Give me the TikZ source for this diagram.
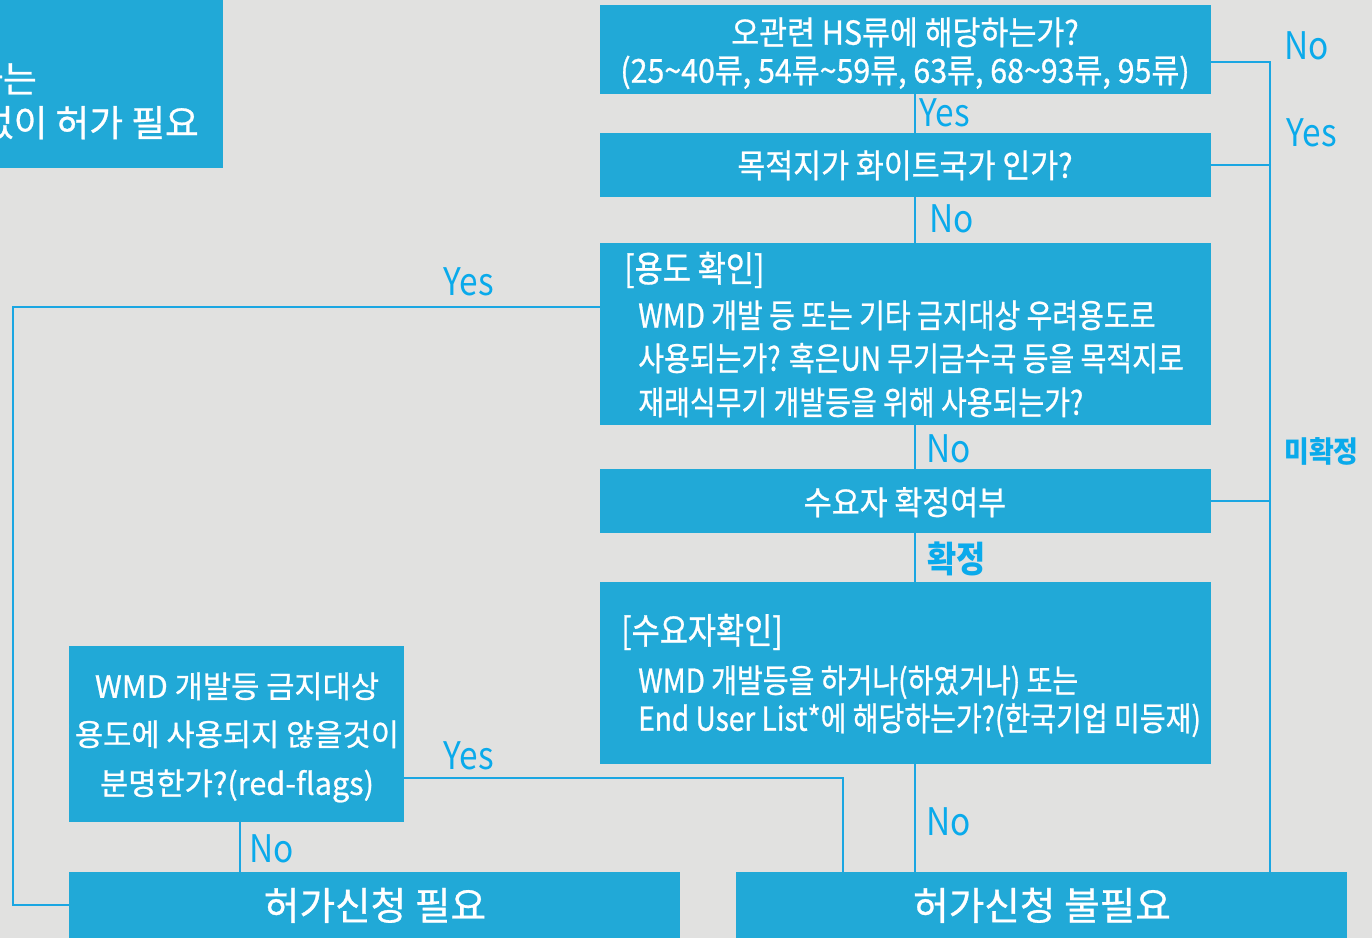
\documentclass[tikz,border=0pt]{standalone}
\usepackage{fontspec}
\setmainfont{Noto Sans CJK KR}
\newfontfamily\krC[FakeStretch=0.85,FakeBold=0.8]{Noto Sans CJK KR}
\newfontfamily\krB[FakeStretch=0.92,FakeBold=0.8]{Noto Sans CJK KR}
\newfontfamily\krL[FakeStretch=0.88]{Noto Sans CJK KR}
\newfontfamily\krM[FakeStretch=0.92]{Noto Sans CJK KR}
\newfontfamily\krN[FakeBold=0.8]{Noto Sans CJK KR}
\definecolor{bgc}{HTML}{E1E1E0}
\definecolor{boxc}{HTML}{21A9D7}
\definecolor{lnc}{HTML}{1AA6E2}
\definecolor{lbc}{HTML}{0AAAEB}
\newcommand\myfs[1]{\fontsize{#1}{#1}\selectfont}
\begin{document}
\begin{tikzpicture}[x=0.75pt,y=-0.75pt,
  box/.style 2 args={fill=boxc, draw=none, inner sep=0pt, minimum width=#1*0.75pt, minimum height=#2*0.75pt},
  txt/.style={text=white, inner sep=0pt, anchor=base},
  txtw/.style={text=white, inner sep=0pt, anchor=base west},
  lbl/.style={text=lbc, inner sep=0pt, anchor=base west, font=\krL\myfs{28.5pt}},
  ln/.style={draw=lnc, line width=1.5pt}]
\useasboundingbox (0,0) rectangle (1372,938);
\clip (0,0) rectangle (1372,938);
\fill[bgc] (0,0) rectangle (1372,938);

% top-left partial box
\node[box={260}{200}] (T) at (93,68) {};
\node[text=white, inner sep=0pt, anchor=base east, font=\krN\myfs{27.5pt}] (T1) at (37,92.4) {하는};
\node[text=white, inner sep=0pt, anchor=base east, font=\krN\myfs{27.5pt}] (T2) at (199,136.4) {없이 허가 필요};

% main column
\node[box={611}{89}] (A) at (905.5,49.5) {};
\node[txt, font=\krB\myfs{24.75pt}] (A1) at (905,44.7) {오관련 HS류에 해당하는가?};
\node[txt, font=\krB\myfs{24.75pt}] (A2) at (905,82.7) {(25\textasciitilde40류, 54류\textasciitilde59류, 63류, 68\textasciitilde93류, 95류)};

\node[box={611}{64}] (B) at (905.5,165) {};
\node[txt, font=\krB\myfs{24.75pt}] (B1) at (905,177.7) {목적지가 화이트국가 인가?};

\node[box={611}{182}] (C) at (905.5,334) {};
\node[txtw, font=\krC\myfs{27pt}] (C0) at (624,281.9) {[용도 확인]};
\node[txtw, font=\krC\myfs{24.75pt}] (C1) at (638,327.7) {WMD 개발 등 또는 기타 금지대상 우려용도로};
\node[txtw, font=\krC\myfs{24.75pt}] (C2) at (638,370.7) {사용되는가? 혹은UN 무기금수국 등을 목적지로};
\node[txtw, font=\krC\myfs{24.75pt}] (C3) at (638,414.7) {재래식무기 개발등을 위해 사용되는가?};

\node[box={611}{64}] (D) at (905.5,501) {};
\node[txt, font=\krB\myfs{24.75pt}] (D1) at (905,514.7) {수요자 확정여부};

\node[box={611}{182}] (E) at (905.5,673) {};
\node[txtw, font=\krC\myfs{27pt}] (E0) at (621,643.9) {[수요자확인]};
\node[txtw, font=\krC\myfs{24.75pt}] (E1) at (638,692.7) {WMD 개발등을 하거나(하였거나) 또는};
\node[txtw, font=\krC\myfs{24.75pt}] (E2) at (638,730.7) {End User List*에 해당하는가?(한국기업 미등재)};

% left box
\node[box={335}{176}] (F) at (236.5,734) {};
\node[txt, font=\krN\myfs{23pt}] (F1) at (237,697.8) {WMD 개발등 금지대상};
\node[txt, font=\krN\myfs{23pt}] (F2) at (237,745.8) {용도에 사용되지 않을것이};
\node[txt, font=\krN\myfs{23pt}] (F3) at (237,794.8) {분명한가?(red-flags)};

% results
\node[box={611}{66}] (G) at (374.5,905) {};
\node[txt, font=\krN\myfs{29pt}] (G1) at (375,919.9) {허가신청 필요};
\node[box={611}{66}] (H) at (1041.5,905) {};
\node[txt, font=\krN\myfs{29pt}] (H1) at (1042,919.9) {허가신청 불필요};

% helper coordinates
\coordinate (vx) at (915,0);
\coordinate (rb) at (1270,0);
\coordinate (lx) at (13,0);
\coordinate (fx) at (240,0);
\coordinate (gx) at (843,0);
\coordinate (ya) at (0,62);
\coordinate (yc) at (0,307);
\coordinate (yf) at (0,778);

% connectors
\draw[ln] (A.south -| vx) -- (B.north -| vx);
\draw[ln] (B.south -| vx) -- (C.north -| vx);
\draw[ln] (C.south -| vx) -- (D.north -| vx);
\draw[ln] (D.south -| vx) -- (E.north -| vx);
\draw[ln] (E.south -| vx) -- (H.north -| vx);
\draw[ln] (A.east |- ya) -| (H.north -| rb);
\draw[ln] (B.east) -- (B.east -| rb);
\draw[ln] (D.east) -- (D.east -| rb);
\draw[ln] (C.west |- yc) -| (lx |- G.west) -- (G.west);
\draw[ln] (F.east |- yf) -| (H.north -| gx);
\draw[ln] (F.south -| fx) -- (G.north -| fx);

% labels
\node[lbl] (l1) at (919,127) {Yes};
\node[lbl] (l2) at (929,233) {No};
\node[lbl] (l3) at (926,462) {No};
\node[lbl, font=\krL\bfseries\myfs{27pt}] (l4) at (927,572) {확정};
\node[lbl] (l5) at (926,835) {No};
\node[lbl] (l6) at (1284,60) {No};
\node[lbl] (l7) at (1286,147) {Yes};
\node[lbl, font=\krM\bfseries\myfs{22pt}] (l8) at (1284,462.4) {미확정};
\node[lbl] (l9) at (443,296) {Yes};
\node[lbl] (l10) at (443,769) {Yes};
\node[lbl] (l11) at (249,862) {No};
\end{tikzpicture}
\end{document}
